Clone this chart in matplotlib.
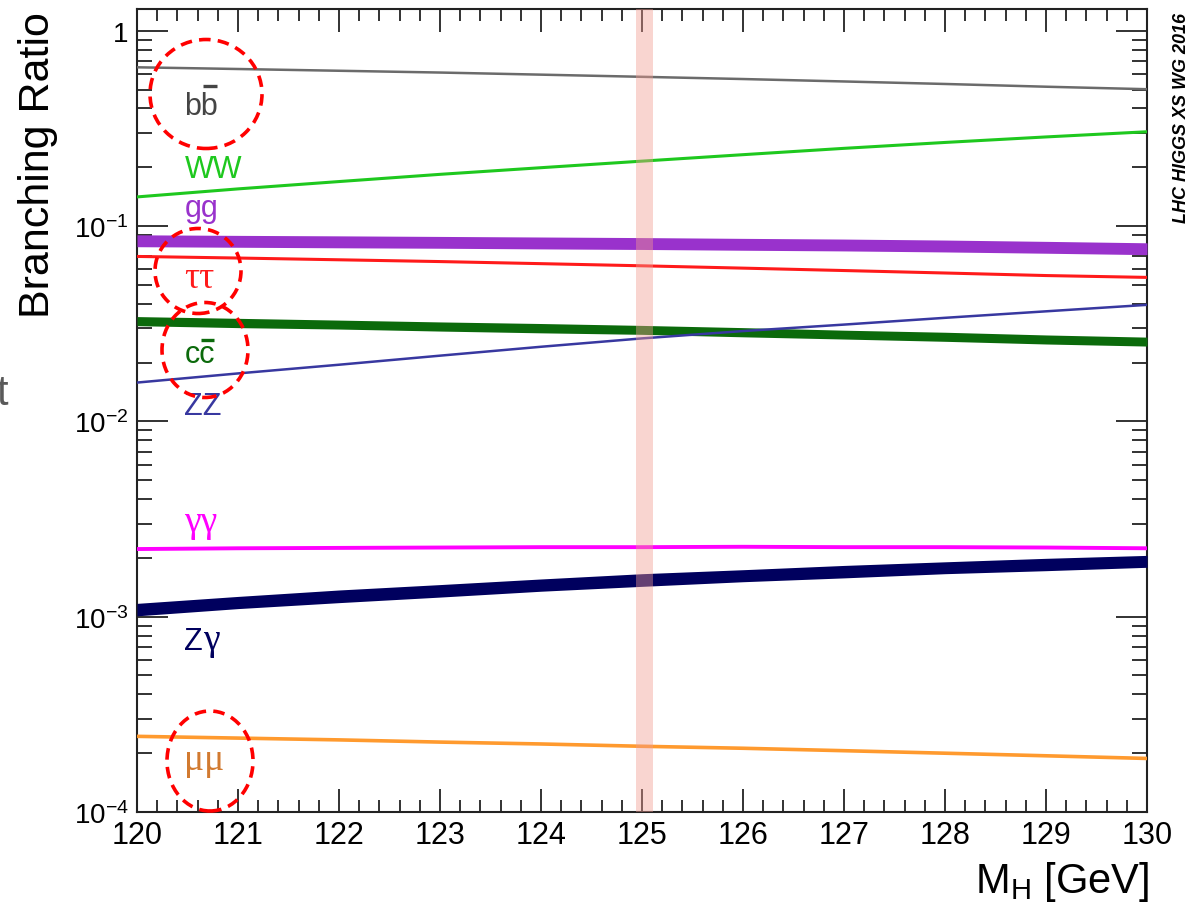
import matplotlib
matplotlib.use("Agg")
import matplotlib.pyplot as plt
from matplotlib.ticker import FixedLocator, MultipleLocator, LogLocator, NullFormatter
from matplotlib.patches import Ellipse
from matplotlib.lines import Line2D

plt.rcParams['font.family'] = ['Liberation Sans', 'DejaVu Sans']
plt.rcParams['mathtext.fontset'] = 'custom'
plt.rcParams['mathtext.rm'] = 'Liberation Serif'
plt.rcParams['mathtext.it'] = 'Liberation Serif:italic'
plt.rcParams['mathtext.bf'] = 'Liberation Sans:bold'

# ---- data ----
mh = [120, 121, 122, 123, 124, 125, 126, 127, 128, 129, 130]
br_bb = [0.650, 0.637, 0.624, 0.611, 0.596, 0.581, 0.566, 0.550, 0.534, 0.517, 0.502]
br_ww = [0.141, 0.155, 0.169, 0.184, 0.199, 0.215, 0.232, 0.250, 0.268, 0.286, 0.304]
br_gg_lo = [0.0784, 0.0779, 0.0774, 0.0770, 0.0764, 0.0759, 0.0752, 0.0746, 0.0737, 0.0726, 0.0714]
br_gg_hi = [0.0902, 0.0896, 0.0891, 0.0885, 0.0879, 0.0873, 0.0865, 0.0858, 0.0848, 0.0835, 0.0821]
br_tautau = [0.0699, 0.0686, 0.0672, 0.0658, 0.0642, 0.0626, 0.0609, 0.0592, 0.0575, 0.0558, 0.0546]
br_cc_lo = [0.0309, 0.0302, 0.0297, 0.0290, 0.0284, 0.0279, 0.0271, 0.0264, 0.0257, 0.0249, 0.0243]
br_cc_hi = [0.0344, 0.0337, 0.0330, 0.0323, 0.0317, 0.0310, 0.0302, 0.0293, 0.0286, 0.0277, 0.0270]
br_zz = [0.0158, 0.0176, 0.0195, 0.0217, 0.0241, 0.0266, 0.0290, 0.0313, 0.0339, 0.0366, 0.0395]
br_gamgam = [0.00222, 0.00224, 0.00225, 0.00226, 0.00227, 0.00227, 0.00228, 0.00227, 0.00227, 0.00226, 0.00224]
br_zgam_lo = [0.00101, 0.00110, 0.00118, 0.00126, 0.00135, 0.00143, 0.00151, 0.00158, 0.00166, 0.00172, 0.00179]
br_zgam_hi = [0.00117, 0.00127, 0.00137, 0.00146, 0.00156, 0.00166, 0.00174, 0.00183, 0.00191, 0.00199, 0.00206]
br_mumu = [0.000244, 0.000239, 0.000234, 0.000228, 0.000223, 0.000217, 0.000212, 0.000206, 0.000200, 0.000194, 0.000188]

mh_band = (124.94, 125.11)

# label: latin part (sans), greek part (serif), baseline y, colour, overline on 2nd glyph?
label_latin = ['bb', 'WW', 'gg', '', 'cc', 'ZZ', '', 'Z', '']
label_greek = ['', '', '', 'ττ', '', '', 'γγ', 'γ', 'μμ']
label_y = [0.376, 0.179, 0.113, 0.0489, 0.0202, 0.01094, 0.00275, 0.000685, 0.000166]
label_color = ['#454545', '#1ec81e', '#9932cc', '#ff1a1a', '#0b6a0b', '#3838a0', '#ff00ff', '#00005e', '#d27a30']
label_bar = [True, False, False, False, True, False, False, False, False]

yticks = [1e-4, 1e-3, 1e-2, 1e-1, 1]
yticklabels = ['$\\mathregular{10^{-4}}$', '$\\mathregular{10^{-3}}$', '$\\mathregular{10^{-2}}$',
               '$\\mathregular{10^{-1}}$', '1']
xticks = [120, 121, 122, 123, 124, 125, 126, 127, 128, 129, 130]

W, H = 1199, 904
fig = plt.figure(figsize=(W / 100, H / 100), dpi=100)
ax = fig.add_axes([137 / W, 1 - 813 / H, (1147 - 137) / W, (813 - 9.5) / H])

ax.set_yscale('log')
ax.set_xlim(120, 130)
ax.set_ylim(1e-4, 1.3)

# lines and bands
ax.plot(mh, br_bb, color='#6b6b6b', lw=1.8, zorder=3)
ax.plot(mh, br_ww, color='#1ec81e', lw=2.2, zorder=3)
ax.fill_between(mh, br_gg_lo, br_gg_hi, color='#9932cc', lw=0, zorder=3)
ax.plot(mh, br_tautau, color='#ff1a1a', lw=2.2, zorder=3)
ax.fill_between(mh, br_cc_lo, br_cc_hi, color='#0b6a0b', lw=0, zorder=3)
ax.plot(mh, br_zz, color='#3838a0', lw=1.8, zorder=3)
ax.plot(mh, br_gamgam, color='#ff00ff', lw=2.8, zorder=3)
ax.fill_between(mh, br_zgam_lo, br_zgam_hi, color='#00005e', lw=0, zorder=3)
ax.plot(mh, br_mumu, color='#ff9a2e', lw=2.6, zorder=3)

ax.axvspan(mh_band[0], mh_band[1], color='#f29b90', alpha=0.42, lw=0, zorder=4)

# ticks
ax.yaxis.set_major_locator(FixedLocator(yticks))
ax.set_yticklabels(yticklabels)
ax.yaxis.set_minor_locator(LogLocator(base=10, subs=[2, 3, 4, 5, 6, 7, 8, 9], numticks=20))
ax.yaxis.set_minor_formatter(NullFormatter())
ax.xaxis.set_major_locator(FixedLocator(xticks))
ax.set_xticklabels([str(v) for v in xticks])
ax.xaxis.set_minor_locator(MultipleLocator(0.2))

ax.tick_params(axis='both', which='both', direction='in', top=True, right=True, color='#222222', width=1.3)
ax.tick_params(axis='x', which='major', length=16.5, labelsize=22, pad=6)
ax.tick_params(axis='x', which='minor', length=8.5)
ax.tick_params(axis='y', which='major', length=22, labelsize=20, pad=6)
ax.tick_params(axis='y', which='minor', length=11)
for s in ax.spines.values():
    s.set_linewidth(1.5)
    s.set_color('#222222')

# axis titles
fig.text(38 / W, 1 - 12 / H, 'Branching Ratio', rotation=90, ha='center', va='top', fontsize=31)
fig.text(1149 / W, 1 - 893 / H, '$\\mathregular{M_H}$ [GeV]', ha='right', va='baseline', fontsize=30)
fig.text(1182 / W, 1 - 13 / H, 'LHC HIGGS XS WG 2016', rotation=90, ha='center', va='top',
         fontsize=13, fontweight='bold', fontstyle='italic')

# clipped slide text at the left edge
fig.text(8 / W, 1 - 405 / H, 't', ha='right', va='baseline', fontsize=30, color='#5a5a5a')

# red dashed highlight circles (pixel positions on the page)
circles = [(206, 95, 112, 109), (198, 272, 86, 85), (205, 351, 86, 95), (210, 762, 86, 100)]
for cx, cy, cw, ch in circles:
    e = Ellipse((cx / W, 1 - cy / H), cw / W, ch / H, transform=fig.transFigure, fill=False,
                edgecolor='#ff0000', lw=2.6, linestyle=(0, (3.2, 2.0)), zorder=10, clip_on=False)
    fig.add_artist(e)

# channel labels: sans latin part, then serif greek part right after it
fig.canvas.draw()
renderer = fig.canvas.get_renderer()
x_lab = 120.47
bar_rise = {'bb': 28, 'cc': 22}
for lat, grk, yv, c, bar in zip(label_latin, label_greek, label_y, label_color, label_bar):
    x0_px, base_y = ax.transData.transform((x_lab, yv))
    next_x = x0_px
    if lat:
        a = ax.text(x_lab, yv, lat, color=c, fontsize=22, ha='left', va='baseline', zorder=5)
        ext = a.get_window_extent(renderer)
        next_x = ext.x1
        if bar:
            xa = ext.x0 + ext.width / 2 + 1.5
            xb = ext.x1 - 1.0
            yy = base_y + bar_rise[lat]
            fig.add_artist(Line2D([xa / W, xb / W], [yy / H, yy / H], transform=fig.transFigure,
                                  color=c, lw=2.4, solid_capstyle='butt', zorder=6))
    if grk:
        fig.text(next_x / W, base_y / H, grk, color=c, fontsize=27,
                 family=['Liberation Serif', 'DejaVu Serif'], ha='left', va='baseline', zorder=5)

fig.savefig('out.png', dpi=100)
